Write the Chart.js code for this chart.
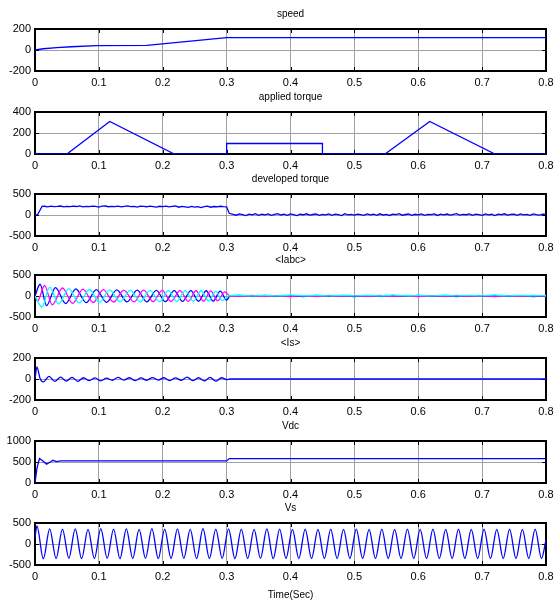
<!DOCTYPE html>
<html><head><meta charset="utf-8">
<script src="https://cdn.jsdelivr.net/npm/chart.js@4/dist/chart.umd.min.js"></script>
<style>
html,body{margin:0;padding:0;background:#fff;}
body{width:559px;height:604px;position:relative;overflow:hidden;}
canvas{position:absolute;left:0;}
</style></head><body>
<script>
// ---------------- DATA ----------------
const timeTicks = [0, 0.1, 0.2, 0.3, 0.4, 0.5, 0.6, 0.7, 0.8];
const titles = ['speed', 'applied torque', 'developed torque', '<Iabc>', '<Is>', 'Vdc', 'Vs'];
const xAxisLabel = 'Time(Sec)';

const speedTicks = [-200, 0, 200];
const loadTicks = [0, 200, 400];
const devTorqueTicks = [-500, 0, 500];
const iabcTicks = [-500, 0, 500];
const isTicks = [-200, 0, 200];
const vdcTicks = [0, 500, 1000];
const vsTicks = [-500, 0, 500];

// speed
const speedTime = [0, 0.013, 0.034, 0.057, 0.097, 0.175, 0.3, 0.8];
const speed = [0, 12, 22, 31, 41, 45, 118, 118];

// applied torque
const loadTime = [0, 0.05, 0.117, 0.218, 0.3, 0.3, 0.45, 0.45, 0.548, 0.618, 0.72, 0.8];
const load = [0, 0, 310, 0, 0, 100, 100, 0, 0, 310, 0, 0];

// developed torque
const devTorqueTime = [0, 0.004, 0.008, 0.011,
  0.015, 0.020, 0.025, 0.030, 0.035, 0.040, 0.045, 0.050, 0.055, 0.060,
  0.065, 0.070, 0.075, 0.080, 0.085, 0.090, 0.095, 0.100, 0.105, 0.110,
  0.115, 0.120, 0.125, 0.130, 0.135, 0.140, 0.145, 0.150, 0.155, 0.160,
  0.165, 0.170, 0.175, 0.180, 0.185, 0.190, 0.195, 0.200, 0.205, 0.210,
  0.215, 0.220, 0.225, 0.230, 0.235, 0.240, 0.245, 0.250, 0.255, 0.260,
  0.265, 0.270, 0.275, 0.280, 0.285, 0.290, 0.295,
  0.300, 0.304,
  0.310, 0.315, 0.320, 0.325, 0.330, 0.335, 0.340, 0.345, 0.350, 0.355,
  0.360, 0.365, 0.370, 0.375, 0.380, 0.385, 0.390, 0.395, 0.400, 0.405,
  0.410, 0.415, 0.420, 0.425, 0.430, 0.435, 0.440, 0.445, 0.450, 0.455,
  0.460, 0.465, 0.470, 0.475, 0.480, 0.485, 0.490, 0.495, 0.500, 0.505,
  0.510, 0.515, 0.520, 0.525, 0.530, 0.535, 0.540, 0.545, 0.550, 0.555,
  0.560, 0.565, 0.570, 0.575, 0.580, 0.585, 0.590, 0.595, 0.600, 0.605,
  0.610, 0.615, 0.620, 0.625, 0.630, 0.635, 0.640, 0.645, 0.650, 0.655,
  0.660, 0.665, 0.670, 0.675, 0.680, 0.685, 0.690, 0.695, 0.700, 0.705,
  0.710, 0.715, 0.720, 0.725, 0.730, 0.735, 0.740, 0.745, 0.750, 0.755,
  0.760, 0.765, 0.770, 0.775, 0.780, 0.785, 0.790, 0.795, 0.800];
const devTorque = [0, 10, 120, 205,
  208, 196, 212, 198, 205, 214, 192, 207, 200, 210,
  202, 216, 195, 206, 198, 211, 203, 190, 209, 214,
  197, 205, 200, 212, 194, 207, 215, 198, 203, 190,
  210, 205, 196, 213, 200, 188, 208, 199, 211, 192,
  204, 214, 185, 206, 196, 180, 204, 188, 200, 178,
  197, 209, 185, 202, 196, 208, 200,
  195, 40,
  15, -5, 28, 10, -12, 22, 5, 30, -8, 18,
  2, 25, -10, 14, 32, 0, 20, -6, 26, 8,
  -14, 18, 6, 29, -4, 12, 24, -10, 16, 3,
  27, -7, 20, 9, -12, 31, 4, 15, -3, 22,
  11, -9, 26, 5, 18, -6, 28, 0, 14, -11,
  21, 7, 30, -5, 12, 24, -8, 17, 3, 26,
  -6, 15, 9, 28, -10, 19, 2, 23, -4, 13,
  30, -2, 16, 6, 25, -9, 20, 11, -7, 27,
  4, 18, -12, 22, 8, 29, -3, 14, 19, -6,
  24, 5, 16, -8, 27, 10, -4, 21, 12];

// <Iabc>  (extrema of each phase)
const iaTime = [0, 0.008, 0.018, 0.032, 0.048, 0.064, 0.080, 0.096, 0.112, 0.128,
  0.144, 0.160, 0.175, 0.190, 0.204, 0.218, 0.231, 0.244, 0.256, 0.268,
  0.279, 0.290, 0.300];
const ia = [0, 280, -230, 200, -180, 170, -160, 150, -150, 145,
  -140, 140, -140, 135, -135, 130, -130, 130, -125, 125,
  -120, 115, -100];
const ibTime = [0, 0.004, 0.015, 0.027, 0.043, 0.059, 0.075, 0.091, 0.107, 0.123,
  0.139, 0.155, 0.170, 0.185, 0.199, 0.213, 0.227, 0.240, 0.252, 0.264,
  0.275, 0.286, 0.297];
const ib = [0, -120, 250, -210, 190, -175, 165, -155, 150, -145,
  140, -140, 140, -135, 135, -130, 130, -128, 125, -125,
  120, -115, 100];
const icTime = [0, 0.011, 0.023, 0.037, 0.053, 0.069, 0.085, 0.101, 0.117, 0.133,
  0.149, 0.165, 0.180, 0.195, 0.209, 0.222, 0.235, 0.248, 0.260, 0.272,
  0.283, 0.293];
const ic = [0, -260, 210, -190, 175, -165, 155, -150, 145, -140,
  140, -140, 135, -135, 130, -130, 128, -125, 125, -120,
  115, -105];
const iTailTime = [0.305, 0.32, 0.34, 0.36, 0.38, 0.40, 0.42, 0.44, 0.46, 0.48,
  0.50, 0.52, 0.54, 0.56, 0.58, 0.60, 0.62, 0.64, 0.66, 0.68,
  0.70, 0.72, 0.74, 0.76, 0.78, 0.80];
const iaTail = [0, 12, -8, 15, -10, 8, -12, 14, -6, 10, -12, 8, -10, 15, -8, 12, -10, 6, -12, 10, -8, 14, -10, 8, -12, 6];
const ibTail = [5, -10, 12, -6, 10, -12, 8, -10, 14, -8, 10, -6, 12, -10, 8, -12, 10, -8, 14, -6, 10, -12, 8, -10, 12, -6];
const icTail = [10, 18, 2, 16, 4, 20, 6, 15, 2, 18, 5, 16, 3, 20, 6, 14, 4, 18, 2, 16, 5, 20, 3, 15, 6, 12];

// <Is>
const isTime = [0, 0.003, 0.008,
  0.013, 0.022, 0.031, 0.040, 0.049, 0.058, 0.067, 0.076, 0.085, 0.094,
  0.103, 0.112, 0.121, 0.130, 0.139, 0.148, 0.157, 0.166, 0.175, 0.184,
  0.193, 0.202, 0.211, 0.220, 0.229, 0.238, 0.247, 0.256, 0.265, 0.274,
  0.283, 0.292,
  0.300, 0.305, 0.8];
const isVal = [0, 115, 5,
  -28, 25, -22, 18, -20, 15, -22, 12, -15, 10,
  -18, 8, -12, 15, -10, 12, -15, 10, -12, 14,
  -10, 12, -15, 10, -12, 18, -15, 12, -18, 15,
  -20, 12,
  -5, 0, 0];

// Vdc
const vdcTime = [0, 0.003, 0.007, 0.011, 0.018, 0.024, 0.028, 0.034, 0.040, 0.3, 0.304, 0.8];
const vdc = [0, 350, 580, 540, 450, 500, 540, 510, 525, 525, 580, 580];

// Vs (peaks and troughs)
const vsTime = [0,
  0.003, 0.013, 0.023, 0.033, 0.043, 0.053, 0.063, 0.073, 0.083, 0.093,
  0.103, 0.113, 0.123, 0.133, 0.143, 0.153, 0.163, 0.173, 0.183, 0.193,
  0.203, 0.213, 0.223, 0.233, 0.243, 0.253, 0.263, 0.273, 0.283, 0.293,
  0.303, 0.313, 0.323, 0.333, 0.343, 0.353, 0.363, 0.373, 0.383, 0.393,
  0.403, 0.413, 0.423, 0.433, 0.443, 0.453, 0.463, 0.473, 0.483, 0.493,
  0.503, 0.513, 0.523, 0.533, 0.543, 0.553, 0.563, 0.573, 0.583, 0.593,
  0.603, 0.613, 0.623, 0.633, 0.643, 0.653, 0.663, 0.673, 0.683, 0.693,
  0.703, 0.713, 0.723, 0.733, 0.743, 0.753, 0.763, 0.773, 0.783, 0.793,
  0.8];
const vs = [150,
  430, -350, 360, -345, 355, -340, 360, -350, 350, -345,
  365, -340, 355, -350, 360, -345, 350, -340, 365, -350,
  355, -345, 360, -340, 350, -350, 365, -345, 355, -340,
  360, -350, 355, -345, 350, -340, 360, -350, 355, -345,
  350, -345, 355, -345, 350, -345, 355, -345, 350, -345,
  355, -345, 350, -345, 355, -345, 350, -345, 355, -345,
  350, -345, 355, -345, 350, -345, 355, -345, 350, -345,
  355, -345, 350, -345, 355, -345, 350, -345, 355, -345,
  100];

// ---------------- DRAWING ----------------
const FONT = "'Liberation Sans Narrow', 'Arial Narrow', 'Liberation Sans', Arial, sans-serif";
const BOX_TOP = [29, 112, 194, 275, 358, 441, 523];
const BOX_H = 42;
const PAD_T = 24;
const PAD_B = 20;
const BLUE = '#0000ff', MAGENTA = '#ff00ff', CYAN = '#00ffff';

function pts(t, v) { return t.map((x, i) => ({ x: x, y: v[i] })); }
function fmt(v) { return v === 0 ? '0' : String(Math.round(v * 10) / 10); }

const framePlugin = {
  id: 'panelFrame',
  beforeDatasetsDraw(chart, args, opts) {
    const { ctx, chartArea: a, scales } = chart;
    const x = scales.x, y = scales.y;
    ctx.save();
    ctx.strokeStyle = '#000';
    ctx.lineWidth = 1;
    ctx.beginPath();
    x.ticks.forEach(t => {
      const px = Math.round(x.getPixelForValue(t.value)) + 0.5;
      ctx.moveTo(px, a.top); ctx.lineTo(px, a.top + 4);
      ctx.moveTo(px, a.bottom); ctx.lineTo(px, a.bottom - 4);
    });
    y.ticks.forEach(t => {
      const py = Math.round(y.getPixelForValue(t.value)) + 0.5;
      ctx.moveTo(a.left, py); ctx.lineTo(a.left + 4, py);
      ctx.moveTo(a.right, py); ctx.lineTo(a.right - 4, py);
    });
    ctx.stroke();
    ctx.lineWidth = 2;
    ctx.strokeRect(a.left, a.top, a.right - a.left, a.bottom - a.top);
    ctx.restore();
  },
  afterDraw(chart, args, opts) {
    const { ctx, chartArea: a } = chart;
    ctx.save();
    ctx.fillStyle = '#000';
    ctx.font = '10px ' + FONT;
    ctx.textAlign = 'center';
    ctx.textBaseline = 'middle';
    const cx = (a.left + a.right) / 2;
    ctx.fillText(opts.title, cx, a.top - 15);
    if (opts.xlabel) ctx.fillText(opts.xlabel, cx, a.bottom + 30);
    ctx.restore();
  }
};

function makePanel(i, yTicks, datasets, xlabel) {
  const extraB = xlabel ? 19 : 0;
  const canvas = document.createElement('canvas');
  canvas.width = 559;
  canvas.height = PAD_T + BOX_H + PAD_B + extraB;
  canvas.style.top = (BOX_TOP[i] - PAD_T) + 'px';
  document.body.appendChild(canvas);
  const tickFont = { family: FONT, size: 11 };
  new Chart(canvas, {
    type: 'line',
    data: { datasets: datasets },
    options: {
      responsive: false, animation: false, events: [],
      layout: { padding: { left: 0, right: 13, top: PAD_T, bottom: 0 } },
      elements: { point: { radius: 0 }, line: { borderWidth: 1.3 } },
      plugins: {
        legend: { display: false }, tooltip: { enabled: false }, title: { display: false },
        panelFrame: { title: titles[i], xlabel: xlabel }
      },
      scales: {
        x: {
          type: 'linear', min: timeTicks[0], max: timeTicks[timeTicks.length - 1],
          afterBuildTicks: s => { s.ticks = timeTicks.map(v => ({ value: v })); },
          afterFit: s => { s.height = PAD_B + extraB; },
          grid: { color: '#a0a0a0', lineWidth: 1, drawTicks: false },
          border: { display: false },
          ticks: { padding: 5, color: '#000', font: tickFont, maxRotation: 0, autoSkip: false, callback: v => fmt(v) }
        },
        y: {
          type: 'linear', min: yTicks[0], max: yTicks[yTicks.length - 1],
          afterBuildTicks: s => { s.ticks = yTicks.map(v => ({ value: v })); },
          afterFit: s => { s.width = 35; },
          grid: { color: '#a0a0a0', lineWidth: 1, drawTicks: false },
          border: { display: false },
          ticks: { padding: 4, color: '#000', font: tickFont, autoSkip: false, callback: v => String(v) }
        }
      }
    },
    plugins: [framePlugin]
  });
}

function line(t, v, color, mono) {
  return { data: pts(t, v), borderColor: color, backgroundColor: color, fill: false,
    cubicInterpolationMode: mono ? 'monotone' : 'default', tension: 0 };
}

makePanel(0, speedTicks, [line(speedTime, speed, BLUE)]);
makePanel(1, loadTicks, [line(loadTime, load, BLUE)]);
makePanel(2, devTorqueTicks, [line(devTorqueTime, devTorque, BLUE)]);
makePanel(3, iabcTicks, [
  line(icTime.concat(iTailTime), ic.concat(icTail), CYAN, true),
  line(ibTime.concat(iTailTime), ib.concat(ibTail), MAGENTA, true),
  line(iaTime.concat(iTailTime), ia.concat(iaTail), BLUE, true)
]);
makePanel(4, isTicks, [line(isTime, isVal, BLUE, true)]);
makePanel(5, vdcTicks, [line(vdcTime, vdc, BLUE)]);
makePanel(6, vsTicks, [line(vsTime, vs, BLUE, true)], xAxisLabel);
</script>
</body></html>
